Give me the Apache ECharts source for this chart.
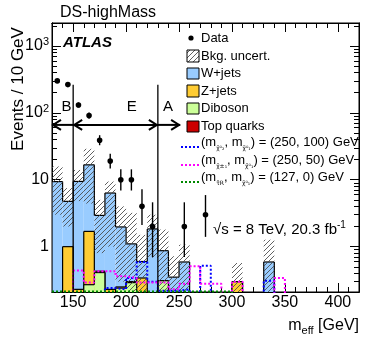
<!DOCTYPE html>
<html>
<head>
<meta charset="utf-8">
<script src="https://cdn.jsdelivr.net/npm/echarts@6.0.0/dist/echarts.min.js"></script>
<style>
html, body { margin: 0; padding: 0; background: #fff; }
#main { width: 374px; height: 346px; }
</style>
</head>
<body>
<div id="main"></div>
<script>
var binLow = [130, 140, 150, 160, 170, 180, 190, 200, 210, 220, 230, 240, 250, 260, 270,
	280, 290, 300, 310, 320, 330, 340, 350, 360, 370, 380, 390, 400, 410];
var binWidth = 10;

// stacked backgrounds, events / 10 GeV
var wjets   = [9.2, 3.75, 9.2, 15.0, 2.5, 6.1, 1.72, 0.8, 0.26, 1.71, 0.56, 0.26, 0.53, 0, 0,
	0, 0, 0, 0, 0, 0.59, 0, 0, 0, 0, 0, 0, 0, 0];
var zjets   = [0.04, 0.91, 0.07, 1.42, 0.02, 0.09, 0.01, 0.01, 0.22, 0.01, 0, 0, 0, 0, 0,
	0, 0, 0.30, 0, 0, 0, 0, 0, 0, 0, 0, 0, 0, 0];
var diboson = [0.08, 0.06, 0.12, 0.22, 0.38, 0.10, 0.22, 0.27, 0.10, 0.10, 0.30, 0.08, 0.05, 0, 0,
	0, 0, 0, 0, 0, 0, 0, 0, 0, 0, 0, 0, 0, 0];
var topq    = [0.05, 0.03, 0.04, 0.05, 0.03, 0.04, 0.02, 0.02, 0.02, 0.02, 0.01, 0.01, 0.01, 0, 0,
	0, 0, 0, 0, 0, 0, 0, 0, 0, 0, 0, 0, 0, 0];
// bkg uncertainty band edges
var uncUp   = [15.8, 7.5, 14, 29, 5.0, 9.4, 4.0, 3.2, 1.5, 3.0, 1.8, 0.72, 1.07, 0, 0,
	0, 0, 0.57, 0, 0, 1.27, 0, 0, 0, 0, 0, 0, 0, 0];
var uncDown = [3.0, 2.0, 4.8, 4.4, 0.8, 1.0, 0.3, 0, 0, 0.68, 0, 0, 0, 0, 0,
	0, 0, 0, 0, 0, 0, 0, 0, 0, 0, 0, 0, 0, 0];

var dataCounts  = [300, 264, 131, 91, 39, 19, 10, 10, 4, 2, 0, 0, 2, 0, 3,
	0, 0, 0, 0, 0, 0, 0, 0, 0, 0, 0, 0, 0, 0];
var dataErrDown = [17, 16, 11, 9.5, 6.2, 4.3, 3.1, 3.1, 1.9, 1.3, 0, 0, 1.3, 0, 1.6,
	0, 0, 0, 0, 0, 0, 0, 0, 0, 0, 0, 0, 0, 0];
var dataErrUp   = [18, 17, 12, 10.5, 7.3, 5.4, 4.3, 4.3, 3.2, 2.6, 0, 0, 2.6, 0, 2.9,
	0, 0, 0, 0, 0, 0, 0, 0, 0, 0, 0, 0, 0, 0];

// signal points
var sigN2N1 = [0.1, 0.1, 0.1, 0.1, 0.15, 0.24, 0.23, 0.34, 0.59, 0.3, 0.22, 0.22, 0.23, 0.15, 0.52,
	0.15, 0.1, 0.1, 0.1, 0.1, 0.31, 0.1, 0.1, 0.1, 0.1, 0.1, 0.1, 0.1, 0.1];
var sigC1C1 = [0.1, 0.1, 0.44, 0.29, 0.43, 0.43, 0.36, 0.34, 0.29, 0.29, 0.29, 0.23, 0.28, 0.51, 0.28,
	0.28, 0.15, 0.30, 0.15, 0.15, 0.15, 0.34, 0.15, 0.1, 0.1, 0.1, 0.1, 0.1, 0.1];
var sigStau = [0.213, 0.213, 0.213, 0.213, 0.213, 0.213, 0.213, 0.213, 0.213, 0.213, 0.213, 0.213, 0.213, 0.213, 0.213,
	0.213, 0.213, 0.1, 0.1, 0.1, 0.1, 0.1, 0.1, 0.1, 0.1, 0.1, 0.1, 0.1, 0.1];

// SR boundaries and arrows
var regionEdges = [150, 230];
var regionNames = ['B', 'E', 'A'];
var regionLabelX = [143.7, 205.3, 239.6];
var regionLabelY = 123;
var arrowY = 66;
var arrowEnds = [[130, 150], [150, 230], [230, 251]];
var lineTop = 262;

var xMajorTicks = [150, 200, 250, 300, 350, 400];
var xMinorTicks = [140, 160, 170, 180, 190, 210, 220, 230, 240, 260, 270, 280, 290, 310, 320,
	330, 340, 360, 370, 380, 390, 410];
var yMajorTicks = [1, 10, 100, 1000];
var yMinorTicks = [0.3, 0.4, 0.5, 0.6, 0.7, 0.8, 0.9, 2, 3, 4, 5, 6, 7, 8, 9,
	20, 30, 40, 50, 60, 70, 80, 90, 200, 300, 400, 500, 600, 700, 800, 900, 2000];

var xMin = 130, xMax = 420;
var yMin = 0.21, yMax = 2200;

var FONT = 'Liberation Sans';

function makeHatch() {
	var c = document.createElement('canvas');
	c.width = 5;
	c.height = 5;
	var ctx = c.getContext('2d');
	ctx.strokeStyle = 'rgba(70,70,70,0.85)';
	ctx.lineWidth = 1;
	ctx.beginPath();
	ctx.moveTo(0, 5); ctx.lineTo(5, 0);
	ctx.moveTo(-1, 1); ctx.lineTo(1, -1);
	ctx.moveTo(4, 6); ctx.lineTo(6, 4);
	ctx.stroke();
	return c;
}
var hatch = { image: makeHatch(), repeat: 'repeat' };

function cl(v) {
	return v > yMin ? v : yMin;
}

// one filled step histogram with black contour
function histLayer(name, values, color, z) {
	return {
		name: name,
		type: 'custom',
		z: z,
		clip: true,
		data: binLow.map(function (x, i) { return [x + binWidth / 2, cl(values[i])]; }),
		renderItem: function (params, api) {
			var i = params.dataIndex;
			var h = values[i];
			if (!(h > yMin)) return null;
			var lo = binLow[i], hi = lo + binWidth;
			var prev = i > 0 ? values[i - 1] : 0;
			var next = i < values.length - 1 ? values[i + 1] : 0;
			var p0 = api.coord([lo, yMin]);
			var p1 = api.coord([hi, h]);
			var kids = [{
				type: 'rect',
				shape: { x: p0[0], y: p1[1], width: p1[0] - p0[0], height: p0[1] - p1[1] },
				style: { fill: color }
			}];
			var line = { stroke: '#000', lineWidth: 1.2 };
			kids.push({ type: 'line', shape: { x1: p0[0], y1: p1[1], x2: p1[0], y2: p1[1] }, style: line });
			if (prev < h) {
				var a = api.coord([lo, cl(prev)]);
				kids.push({ type: 'line', shape: { x1: p0[0], y1: a[1], x2: p0[0], y2: p1[1] }, style: line });
			}
			if (next < h) {
				var b = api.coord([hi, cl(next)]);
				kids.push({ type: 'line', shape: { x1: p1[0], y1: b[1], x2: p1[0], y2: p1[1] }, style: line });
			}
			return { type: 'group', children: kids };
		}
	};
}

function stepLine(name, values, color) {
	var pts = binLow.map(function (x, i) { return [x, values[i]]; });
	pts.push([xMax, values[values.length - 1]]);
	return {
		name: name,
		type: 'line',
		step: 'end',
		z: 7,
		symbol: 'none',
		clip: true,
		data: pts,
		lineStyle: { color: color, width: 2, type: [2, 2] }
	};
}

function xAx(pos, ticks, len, labels) {
	return {
		type: 'value', min: xMin, max: xMax, position: pos,
		axisLine: { show: true, onZero: false, lineStyle: { color: '#000', width: 1 } },
		axisTick: { show: true, inside: true, length: len, customValues: ticks, lineStyle: { color: '#000', width: 1 } },
		axisLabel: labels ? {
			show: true, customValues: ticks, margin: 3,
			color: '#000', fontSize: 16, fontFamily: FONT
		} : { show: false },
		splitLine: { show: false }
	};
}

function yAx(pos, ticks, len, labels) {
	return {
		type: 'log', logBase: 10, min: yMin, max: yMax, position: pos,
		axisLine: { show: true, onZero: false, lineStyle: { color: '#000', width: 1 } },
		axisTick: { show: true, inside: true, length: len, customValues: ticks, lineStyle: { color: '#000', width: 1 } },
		axisLabel: labels ? {
			show: true, customValues: ticks, margin: 3,
			formatter: function (v) {
				var e = Math.round(Math.log10(v));
				if (e < 2) return '{a|' + Math.round(v) + '}';
				return '{a|10}{p|' + e + '}';
			},
			rich: {
				a: { color: '#000', fontSize: 16, fontFamily: FONT, lineHeight: 18 },
				p: { color: '#000', fontSize: 11, fontFamily: FONT, verticalAlign: 'top', lineHeight: 18 }
			}
		} : { show: false },
		splitLine: { show: false },
		minorTick: { show: false }
	};
}

function draw() {
	var myChart = echarts.init(document.getElementById('main'), null, { renderer: 'canvas' });

	var cumTop = topq.slice();
	var cumDib = diboson.map(function (v, i) { return v + cumTop[i]; });
	var cumZ = zjets.map(function (v, i) { return v + cumDib[i]; });
	var cumW = wjets.map(function (v, i) { return v + cumZ[i]; });

	var txt = { fontFamily: FONT, fontSize: 13, fill: '#000' };
	var rich13 = {
		a: { fontFamily: FONT, fontSize: 13, color: '#000', lineHeight: 18 },
		s: { fontFamily: 'DejaVu Sans', fontSize: 6, color: '#000', verticalAlign: 'bottom', lineHeight: 18 }
	};

	var option = {
		animation: false,
		grid: { left: 52, right: 15, top: 23, bottom: 54, show: true, borderColor: '#000', borderWidth: 1 },
		xAxis: [
			xAx('bottom', xMajorTicks, 9, true),
			xAx('bottom', xMinorTicks, 5, false),
			xAx('top', xMajorTicks, 9, false),
			xAx('top', xMinorTicks, 5, false)
		],
		yAxis: [
			yAx('left', yMajorTicks, 9, true),
			yAx('left', yMinorTicks, 5, false),
			yAx('right', yMajorTicks, 9, false),
			yAx('right', yMinorTicks, 5, false)
		],
		series: [
			histLayer('W+jets', cumW, '#99ccff', 2),
			histLayer('Z+jets', cumZ, '#ffcc33', 3),
			histLayer('Diboson', cumDib, '#ccff99', 4),
			histLayer('Top quarks', cumTop, '#cc0000', 5),
			{
				name: 'Bkg. uncert.',
				type: 'custom',
				z: 6,
				clip: true,
				data: binLow.map(function (x, i) { return [x + binWidth / 2, cl(uncUp[i])]; }),
				renderItem: function (params, api) {
					var i = params.dataIndex;
					if (!(uncUp[i] > yMin)) return null;
					var p0 = api.coord([binLow[i], cl(uncDown[i])]);
					var p1 = api.coord([binLow[i] + binWidth, uncUp[i]]);
					return {
						type: 'rect',
						shape: { x: p0[0], y: p1[1], width: p1[0] - p0[0], height: p0[1] - p1[1] },
						style: { fill: hatch }
					};
				}
			},
			stepLine('(250, 100)', sigN2N1, '#0000ff'),
			stepLine('(250, 50)', sigC1C1, '#ff00ff'),
			stepLine('(127, 0)', sigStau, '#008800'),
			{
				name: 'regions',
				type: 'custom',
				z: 8,
				clip: false,
				data: [[190, arrowY]],
				renderItem: function (params, api) {
					var kids = [];
					var st = { stroke: '#000', lineWidth: 1.3 };
					regionEdges.forEach(function (e) {
						var a = api.coord([e, lineTop]), b = api.coord([e, yMin]);
						kids.push({ type: 'line', shape: { x1: a[0], y1: a[1], x2: b[0], y2: b[1] }, style: st });
					});
					var ast = { stroke: '#000', lineWidth: 2, fill: null };
					arrowEnds.forEach(function (ae, k) {
						var a = api.coord([ae[0], arrowY]), b = api.coord([ae[1], arrowY]);
						kids.push({ type: 'line', shape: { x1: a[0], y1: a[1], x2: b[0], y2: b[1] }, style: ast });
						if (k < 2) kids.push({ type: 'polyline', shape: { points: [[a[0] + 9, a[1] - 5], [a[0] + 1, a[1]], [a[0] + 9, a[1] + 5]] }, style: ast });
						if (k > 0) kids.push({ type: 'polyline', shape: { points: [[b[0] - 9, b[1] - 5], [b[0] - 1, b[1]], [b[0] - 9, b[1] + 5]] }, style: ast });
					});
					regionNames.forEach(function (n, k) {
						var p = api.coord([regionLabelX[k], regionLabelY]);
						kids.push({ type: 'text', x: p[0], y: p[1], style: { text: n, fontFamily: FONT, fontSize: 15, fill: '#000', align: 'center', verticalAlign: 'middle' } });
					});
					return { type: 'group', children: kids };
				}
			},
			{
				name: 'Data',
				type: 'custom',
				z: 9,
				clip: false,
				data: binLow.map(function (x, i) { return [x + binWidth / 2, cl(dataCounts[i])]; }),
				renderItem: function (params, api) {
					var i = params.dataIndex;
					var n = dataCounts[i];
					if (!(n > 0)) return null;
					var x = binLow[i] + binWidth / 2;
					var pc = api.coord([x, n]);
					var pt = api.coord([x, n + dataErrUp[i]]);
					var pb = api.coord([x, cl(n - dataErrDown[i])]);
					return {
						type: 'group',
						children: [
							{ type: 'line', shape: { x1: pc[0], y1: pt[1], x2: pc[0], y2: pb[1] }, style: { stroke: '#000', lineWidth: 1.4 } },
							{ type: 'circle', shape: { cx: pc[0], cy: pc[1], r: 2.8 }, style: { fill: '#000' } }
						]
					};
				}
			}
		],
		graphic: [
			{ type: 'text', x: 60, y: 13, style: { text: 'DS-highMass', fontFamily: FONT, fontSize: 16, fill: '#000', verticalAlign: 'middle' } },
			{ type: 'text', x: 63, y: 43, style: { text: 'ATLAS', fontFamily: FONT, fontSize: 15, fontWeight: 'bold', fontStyle: 'italic', fill: '#000', verticalAlign: 'middle' } },
			{ type: 'text', x: 18, y: 89, rotation: Math.PI / 2, style: { text: 'Events / 10 GeV', fontFamily: FONT, fontSize: 17, fill: '#000', align: 'center', verticalAlign: 'middle' } },
			{
				type: 'text', x: 359, y: 326,
				style: {
					text: '{a|m}{s|eff}{a| [GeV]}', align: 'right', verticalAlign: 'middle',
					rich: {
						a: { fontFamily: FONT, fontSize: 16, color: '#000', lineHeight: 20 },
						s: { fontFamily: FONT, fontSize: 11, color: '#000', verticalAlign: 'bottom', lineHeight: 20 }
					}
				}
			},
			{
				type: 'text', x: 213, y: 230,
				style: {
					text: '{a|\u221as = 8 TeV, 20.3 fb}{p|-1}', verticalAlign: 'middle',
					rich: {
						a: { fontFamily: FONT, fontSize: 15, color: '#000', lineHeight: 20 },
						p: { fontFamily: FONT, fontSize: 10, color: '#000', verticalAlign: 'top', lineHeight: 20 }
					}
				}
			},
			// legend
			{ type: 'circle', shape: { cx: 191, cy: 38, r: 2.6 }, style: { fill: '#000' } },
			{ type: 'text', x: 201, y: 38, style: Object.assign({ text: 'Data', verticalAlign: 'middle' }, txt) },
			{ type: 'rect', shape: { x: 187, y: 50, width: 12, height: 12 }, style: { fill: hatch, stroke: '#000', lineWidth: 1 } },
			{ type: 'text', x: 201, y: 56, style: Object.assign({ text: 'Bkg. uncert.', verticalAlign: 'middle' }, txt) },
			{ type: 'rect', shape: { x: 187, y: 68, width: 12, height: 11 }, style: { fill: '#99ccff', stroke: '#000', lineWidth: 1 } },
			{ type: 'text', x: 201, y: 73.5, style: Object.assign({ text: 'W+jets', verticalAlign: 'middle' }, txt) },
			{ type: 'rect', shape: { x: 187, y: 85, width: 12, height: 12 }, style: { fill: '#ffcc33', stroke: '#000', lineWidth: 1 } },
			{ type: 'text', x: 201, y: 91, style: Object.assign({ text: 'Z+jets', verticalAlign: 'middle' }, txt) },
			{ type: 'rect', shape: { x: 187, y: 103, width: 12, height: 11 }, style: { fill: '#ccff99', stroke: '#000', lineWidth: 1 } },
			{ type: 'text', x: 201, y: 108.5, style: Object.assign({ text: 'Diboson', verticalAlign: 'middle' }, txt) },
			{ type: 'rect', shape: { x: 187, y: 121, width: 12, height: 11 }, style: { fill: '#cc0000', stroke: '#000', lineWidth: 1 } },
			{ type: 'text', x: 201, y: 126.5, style: Object.assign({ text: 'Top quarks', verticalAlign: 'middle' }, txt) },
			{ type: 'line', shape: { x1: 181, y1: 147, x2: 199, y2: 147 }, style: { stroke: '#0000ff', lineWidth: 2, lineDash: [2, 2] } },
			{ type: 'text', x: 201, y: 142, style: { text: '{a|(m}{s|\u03c7\u0303\u2070\u2082}{a|, m}{s|\u03c7\u0303\u2070\u2081}{a|) = (250, 100) GeV}', verticalAlign: 'middle', rich: rich13 } },
			{ type: 'line', shape: { x1: 181, y1: 165, x2: 199, y2: 165 }, style: { stroke: '#ff00ff', lineWidth: 2, lineDash: [2, 2] } },
			{ type: 'text', x: 201, y: 160, style: { text: '{a|(m}{s|\u03c7\u0303\u00b1\u2081}{a|, m}{s|\u03c7\u0303\u2070\u2081}{a|) = (250, 50) GeV}', verticalAlign: 'middle', rich: rich13 } },
			{ type: 'line', shape: { x1: 181, y1: 182, x2: 199, y2: 182 }, style: { stroke: '#008800', lineWidth: 2, lineDash: [2, 2] } },
			{ type: 'text', x: 201, y: 177, style: { text: '{a|(m}{s|\u03c4\u0303R}{a|, m}{s|\u03c7\u0303\u2070\u2081}{a|) = (127, 0) GeV}', verticalAlign: 'middle', rich: rich13 } }
		]
	};

	myChart.setOption(option);
}

draw();
</script>
</body>
</html>
